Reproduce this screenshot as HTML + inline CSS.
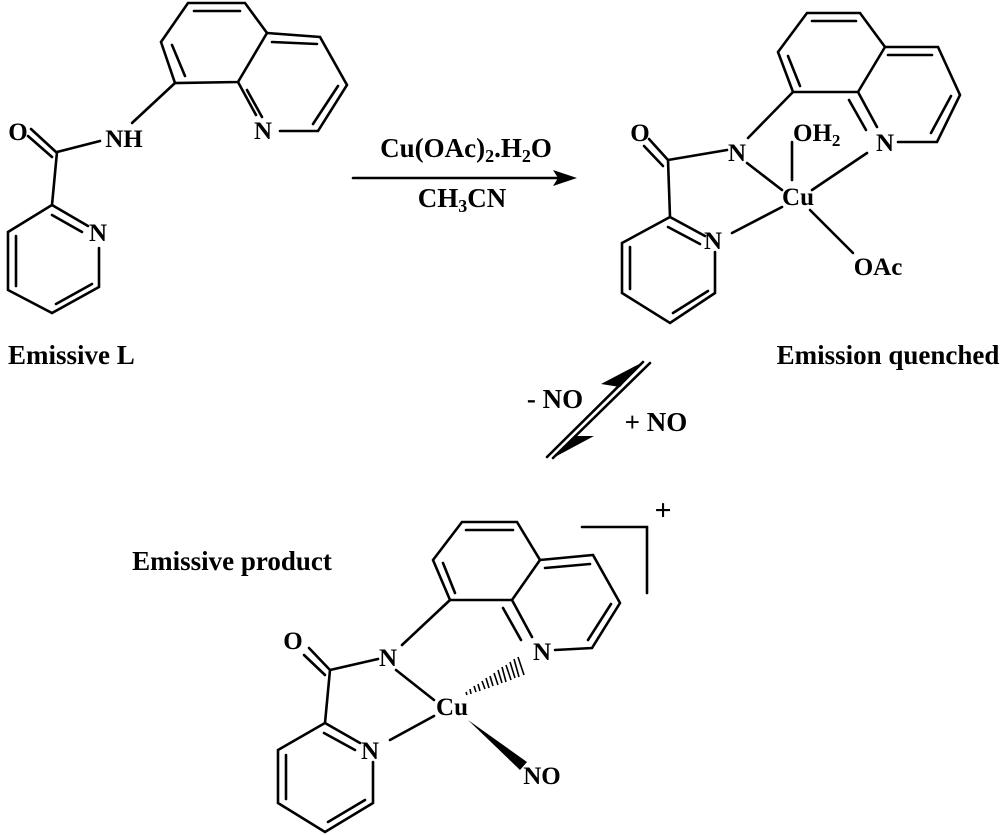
<!DOCTYPE html>
<html><head><meta charset="utf-8"><style>
html,body{margin:0;padding:0;background:#fff;}
svg{display:block}
text{font-family:"Liberation Serif",serif;font-weight:bold;fill:#000;}
</style></head><body>
<svg width="1000" height="836" viewBox="0 0 1000 836" xmlns="http://www.w3.org/2000/svg">
<g stroke="#000" stroke-width="2.6" fill="none" stroke-linecap="round">
<polyline points="161,42 188,3 245,3 267,33 238,82 175,83 161,42"/>
<line x1="172" y1="45" x2="185" y2="76"/>
<line x1="194" y1="11" x2="240" y2="11"/>
<polyline points="267,33 320,37 347,85 318,131 280,131"/>
<line x1="238" y1="82" x2="256" y2="115"/>
<line x1="247" y1="90" x2="262" y2="117"/>
<line x1="272" y1="42" x2="317" y2="44"/>
<line x1="338" y1="86" x2="313" y2="124"/>
<line x1="175" y1="83" x2="132" y2="123"/>
<line x1="57" y1="152" x2="100" y2="141"/>
<line x1="31" y1="129" x2="56" y2="152"/>
<line x1="28" y1="136" x2="52" y2="157"/>
<polyline points="57,152 52,205 8,232 8,290 52,313 99,287 99,248"/>
<line x1="52" y1="205" x2="88" y2="226"/>
<line x1="52" y1="215" x2="82" y2="232"/>
<line x1="16" y1="236" x2="16" y2="286"/>
<line x1="56" y1="304" x2="92" y2="284"/>
<line x1="353" y1="178" x2="560" y2="178"/>
<polyline points="778,52 807,13 860,13 885,47 858,92 793,92 778,52"/>
<line x1="788" y1="56" x2="800" y2="86"/>
<line x1="812" y1="21" x2="856" y2="21"/>
<polyline points="885,47 938,47 960,95 937,142 898,142"/>
<line x1="888" y1="55" x2="932" y2="55"/>
<line x1="951" y1="96" x2="931" y2="133"/>
<line x1="858" y1="92" x2="877" y2="127"/>
<line x1="849" y1="100" x2="866" y2="130"/>
<line x1="793" y1="92" x2="748" y2="138"/>
<line x1="668" y1="160" x2="727" y2="150"/>
<line x1="649" y1="139" x2="668" y2="160"/>
<line x1="644" y1="146" x2="663" y2="166"/>
<polyline points="668,160 670,217 622,243 622,293 670,323 715,293 715,252"/>
<line x1="670" y1="217" x2="705" y2="236"/>
<line x1="668" y1="227" x2="700" y2="244"/>
<line x1="630" y1="247" x2="630" y2="289"/>
<line x1="673" y1="313" x2="708" y2="291"/>
<line x1="792" y1="142" x2="792" y2="180"/>
<line x1="747" y1="163" x2="782" y2="190"/>
<line x1="732" y1="233" x2="782" y2="207"/>
<line x1="812" y1="190" x2="867" y2="153"/>
<line x1="810" y1="210" x2="853" y2="253"/>
<line x1="547" y1="457" x2="643" y2="362"/>
<line x1="553" y1="458" x2="650" y2="363"/>
<polyline points="433,560 462,522 517,522 540,560 512,600 450,600 433,560"/>
<line x1="443" y1="563" x2="455" y2="593"/>
<line x1="466" y1="530" x2="513" y2="530"/>
<polyline points="540,560 593,555 620,603 592,648 555,650"/>
<line x1="545" y1="568" x2="590" y2="564"/>
<line x1="611" y1="604" x2="588" y2="640"/>
<line x1="512" y1="600" x2="532" y2="637"/>
<line x1="503" y1="608" x2="521" y2="640"/>
<line x1="450" y1="600" x2="402" y2="645"/>
<line x1="330" y1="670" x2="378" y2="659"/>
<line x1="309" y1="648" x2="330" y2="670"/>
<line x1="304" y1="655" x2="325" y2="675"/>
<polyline points="330,670 325,723 278,750 278,803 325,832 373,803 373,762"/>
<line x1="325" y1="723" x2="360" y2="743"/>
<line x1="324" y1="733" x2="355" y2="750"/>
<line x1="286" y1="755" x2="286" y2="799"/>
<line x1="328" y1="822" x2="365" y2="800"/>
<line x1="396" y1="670" x2="434" y2="700"/>
<line x1="390" y1="740" x2="434" y2="716"/>
<polyline points="582,527 647,527 647,593"/>
</g>
<polygon points="577,178 553,170 558,178 553,186" fill="#000"/>
<polygon points="643,362 601,384 620,387" fill="#000"/>
<polygon points="553,458 594,436 576,436" fill="#000"/>
<polygon points="468,720 520,770 527,762" fill="#000"/>
<g stroke="#000" stroke-width="1.6">
<line x1="466" y1="692" x2="467" y2="695"/>
<line x1="470" y1="689" x2="471" y2="694"/>
<line x1="474" y1="686" x2="476" y2="692"/>
<line x1="478" y1="684" x2="480" y2="691"/>
<line x1="482" y1="681" x2="485" y2="689"/>
<line x1="486" y1="678" x2="489" y2="688"/>
<line x1="490" y1="676" x2="493" y2="686"/>
<line x1="494" y1="673" x2="498" y2="685"/>
<line x1="498" y1="670" x2="502" y2="683"/>
<line x1="502" y1="667" x2="506" y2="682"/>
<line x1="506" y1="665" x2="511" y2="680"/>
<line x1="510" y1="662" x2="515" y2="678"/>
<line x1="514" y1="659" x2="519" y2="677"/>
<line x1="518" y1="657" x2="524" y2="675"/>
</g>
<g font-size="25">
<text x="18" y="140" text-anchor="middle">O</text>
<text x="124" y="147" text-anchor="middle">NH</text>
<text x="263" y="139" text-anchor="middle">N</text>
<text x="98" y="241" text-anchor="middle">N</text>
<text x="640" y="141" text-anchor="middle">O</text>
<text x="737" y="161" text-anchor="middle">N</text>
<text x="885" y="151" text-anchor="middle">N</text>
<text x="713" y="249" text-anchor="middle">N</text>
<text x="798" y="205" text-anchor="middle">Cu</text>
<text x="793" y="141">OH<tspan font-size="17" dy="5">2</tspan></text>
<text x="878" y="275" text-anchor="middle">OAc</text>
<text x="293" y="649" text-anchor="middle">O</text>
<text x="388" y="666" text-anchor="middle">N</text>
<text x="542" y="660" text-anchor="middle">N</text>
<text x="370" y="759" text-anchor="middle">N</text>
<text x="452" y="715" text-anchor="middle">Cu</text>
<text x="542" y="784" text-anchor="middle">NO</text>
<text x="663" y="520" text-anchor="middle" font-size="30">+</text>
</g>
<g font-size="27">
<text x="466" y="157" text-anchor="middle">Cu(OAc)<tspan font-size="18" dy="5">2</tspan><tspan dy="-5">.H</tspan><tspan font-size="18" dy="5">2</tspan><tspan dy="-5">O</tspan></text>
<text x="462" y="207" text-anchor="middle">CH<tspan font-size="18" dy="5">3</tspan><tspan dy="-5">CN</tspan></text>
<text x="555" y="408" text-anchor="middle">- NO</text>
<text x="656" y="431" text-anchor="middle">+ NO</text>
<text x="8" y="364">Emissive L</text>
<text x="888" y="364" text-anchor="middle">Emission quenched</text>
<text x="232" y="570" text-anchor="middle">Emissive product</text>
</g>
</svg>
</body></html>
